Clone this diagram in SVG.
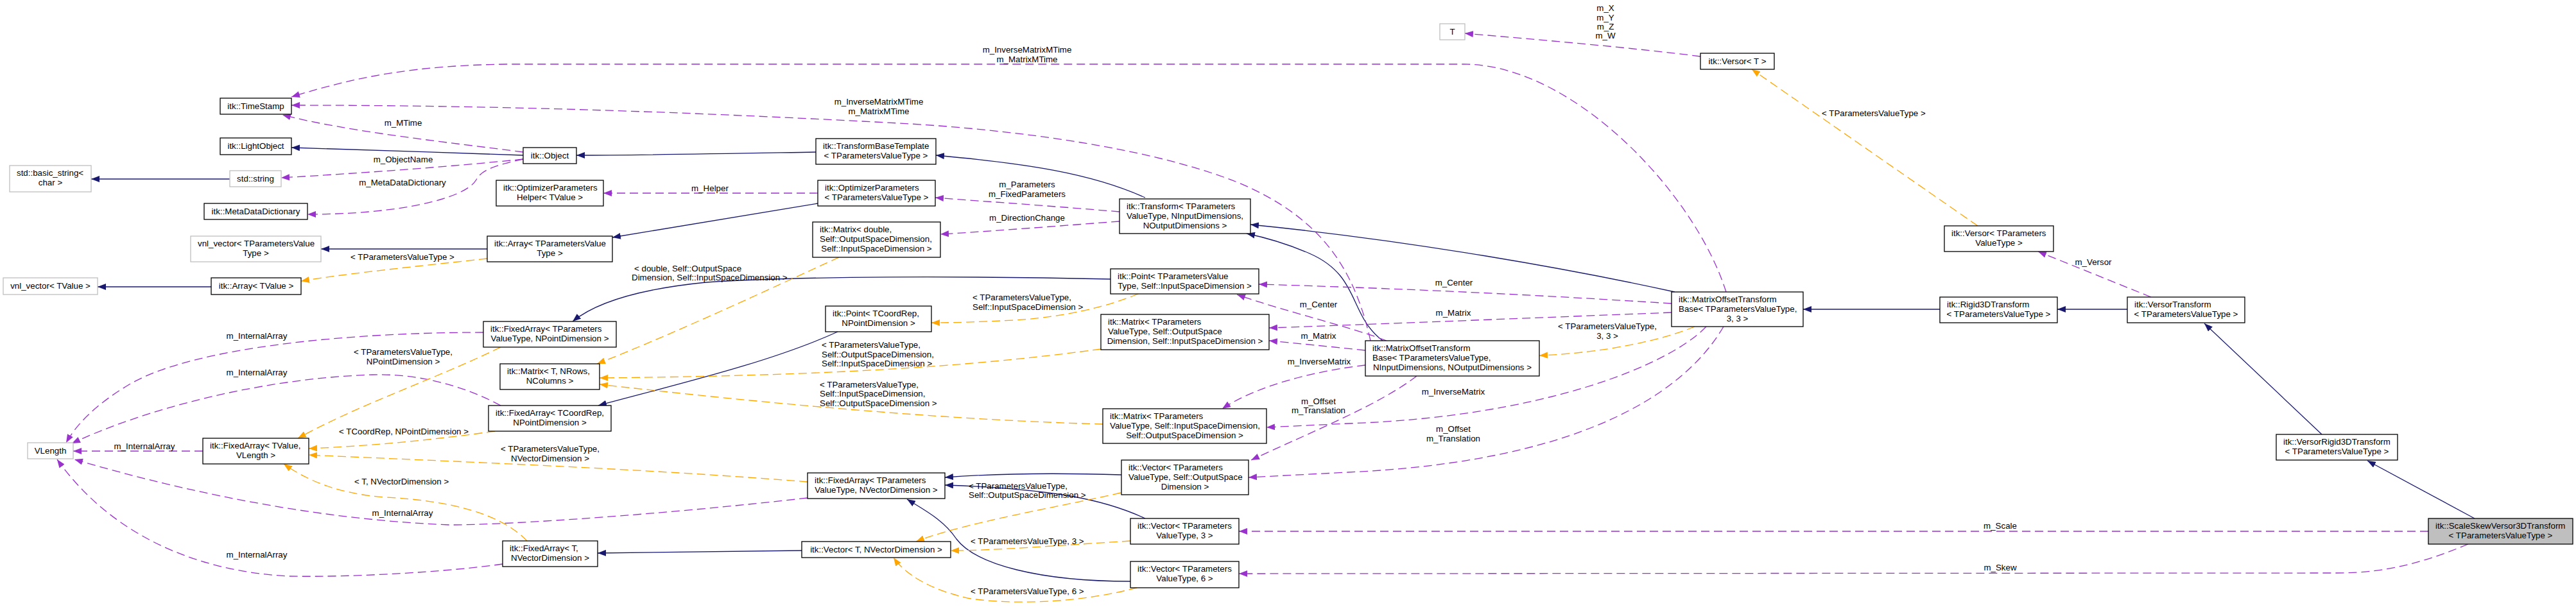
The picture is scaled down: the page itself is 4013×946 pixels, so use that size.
<svg xmlns="http://www.w3.org/2000/svg" width="4013" height="946" viewBox="0 0 4013 946">
<style>
text{font-family:"Liberation Sans",Arial,sans-serif;font-size:13.33px;fill:#000}
.c{text-anchor:middle}
.l{text-anchor:start}
.nodes rect{fill:#fff;stroke:#000;stroke-width:1.3}
.nodes rect.gy{stroke:#bfbfbf}
.nodes rect.cur{fill:#bfbfbf}
.e{fill:none;stroke-width:1.3}
.s{stroke:#191970;marker-end:url(#an)}
.p{stroke:#9a32cd;stroke-dasharray:13,7;marker-end:url(#ap)}
.o{stroke:#ffa500;stroke-dasharray:13,7;marker-end:url(#ao)}
</style>
<defs>
<marker id="an" viewBox="0 0 13 10" refX="13" refY="5" markerWidth="13" markerHeight="10" markerUnits="userSpaceOnUse" orient="auto"><path d="M0,0 L13,5 L0,10 z" fill="#191970"/></marker>
<marker id="ap" viewBox="0 0 13 10" refX="13" refY="5" markerWidth="13" markerHeight="10" markerUnits="userSpaceOnUse" orient="auto"><path d="M0,0 L13,5 L0,10 z" fill="#9a32cd"/></marker>
<marker id="ao" viewBox="0 0 13 10" refX="13" refY="5" markerWidth="13" markerHeight="10" markerUnits="userSpaceOnUse" orient="auto"><path d="M0,0 L13,5 L0,10 z" fill="#ffa500"/></marker>
</defs>
<rect x="0" y="0" width="4013" height="946" fill="#fff"/>
<g id="connectors">
<!-- inheritance -->
<path class="e s" d="M815,242 C700,238 560,233 454,230"/>
<path class="e s" d="M358,279 L142,279"/>
<path class="e s" d="M1271,237 C1100,240 1000,242 898,242"/>
<path class="e s" d="M759,388 L500,388"/>
<path class="e s" d="M1274,317 L954,370"/>
<path class="e s" d="M329,447 L152,447"/>
<path class="e s" d="M1784,308 C1700,270 1600,255 1458,242"/>
<path class="e s" d="M2609,455 C2450,420 2200,375 1948,350"/>
<path class="e s" d="M2154,531 C2100,490 2120,430 2040,395 C2010,382 1980,372 1942,364"/>
<path class="e s" d="M1730,435 C1500,430 1250,430 1100,440 C1000,450 930,470 892,501"/>
<path class="e s" d="M1305,517 C1200,565 1050,600 932,632"/>
<path class="e s" d="M1249,858 L931,862"/>
<path class="e s" d="M1747,740 C1650,737 1550,738 1472,744"/>
<path class="e s" d="M1784,808 C1720,778 1640,762 1472,756"/>
<path class="e s" d="M1761,906 C1620,906 1520,880 1490,840 C1470,810 1440,795 1413,778"/>
<path class="e s" d="M3022,482 L2809,482"/>
<path class="e s" d="M3314,482 L3205,482"/>
<path class="e s" d="M3617,677 L3434,504"/>
<path class="e s" d="M3855,808 L3688,718"/>
<!-- members -->
<path class="e p" d="M2689,455 C2640,300 2450,100 2280,100 L790,100 C650,102 560,118 454,151"/>
<path class="e p" d="M2135,531 C2110,420 2060,340 1930,285 C1780,225 1550,200 1400,192 C1100,176 800,164 454,164"/>
<path class="e p" d="M815,237 C700,222 540,205 440,179"/>
<path class="e p" d="M815,248 C700,260 560,270 438,277"/>
<path class="e p" d="M815,248 C770,258 750,265 742,280 C725,310 620,334 479,334"/>
<path class="e p" d="M1274,301 L940,301"/>
<path class="e p" d="M1744,330 C1650,322 1550,315 1457,308"/>
<path class="e p" d="M1744,345 C1650,352 1550,360 1465,365"/>
<path class="e p" d="M753,518 C550,518 300,540 200,600 C150,630 120,660 103,690"/>
<path class="e p" d="M780,632 C720,600 650,582 580,584 C400,590 220,640 112,691"/>
<path class="e p" d="M316,703 L114,703"/>
<path class="e p" d="M1258,776 C1050,800 800,818 700,818 C500,810 300,770 116,716"/>
<path class="e p" d="M783,879 C700,891 550,900 450,898 C300,890 170,830 89,716"/>
<path class="e p" d="M2604,473 C2400,460 2200,450 1961,443"/>
<path class="e p" d="M2160,531 C2100,508 2000,485 1927,459"/>
<path class="e p" d="M2604,487 C2400,495 2150,505 1977,511"/>
<path class="e p" d="M2127,546 C2070,540 2020,535 1977,531"/>
<path class="e p" d="M2127,569 C2050,578 1960,600 1904,637"/>
<path class="e p" d="M2658,509 C2600,570 2400,650 2100,660 L1973,666"/>
<path class="e p" d="M2207,586 C2150,630 2050,670 1949,717"/>
<path class="e p" d="M2685,509 C2620,620 2450,720 2100,736 L1945,744"/>
<path class="e p" d="M2649,88 C2550,75 2400,62 2282,52"/>
<path class="e p" d="M3351,463 L3175,392"/>
<path class="e p" d="M3783,828 L1930,828"/>
<path class="e p" d="M3845,848 C3780,875 3720,893 3640,893 L1930,894"/>
<!-- template instances -->
<path class="e o" d="M759,403 C650,415 550,425 469,438"/>
<path class="e o" d="M1307,401 C1200,450 1050,520 930,567"/>
<path class="e o" d="M1715,544 C1550,566 1350,585 934,589"/>
<path class="e o" d="M1718,661 C1500,655 1250,635 934,599"/>
<path class="e o" d="M1773,458 C1720,480 1650,495 1579,499 C1520,502 1480,503 1451,503"/>
<path class="e o" d="M780,541 C680,590 560,630 464,683"/>
<path class="e o" d="M771,672 C680,685 580,695 481,699"/>
<path class="e o" d="M1258,751 C1000,730 700,719 481,709"/>
<path class="e o" d="M821,843 C780,800 700,780 600,775 C530,770 480,750 442,723"/>
<path class="e o" d="M1746,768 C1650,790 1500,815 1427,844"/>
<path class="e o" d="M1761,843 C1650,850 1550,858 1481,858"/>
<path class="e o" d="M1771,916 C1700,935 1600,945 1512,933 C1450,920 1410,895 1392,869"/>
<path class="e o" d="M2640,509 C2590,530 2500,550 2398,554"/>
<path class="e o" d="M3081,352 L2729,108"/>
<!-- edge labels -->
<text class="c" x="1600" y="82">m_InverseMatrixMTime</text>
<text class="c" x="1600" y="97">m_MatrixMTime</text>
<text class="c" x="1369" y="163">m_InverseMatrixMTime</text>
<text class="c" x="1369" y="178">m_MatrixMTime</text>
<text class="c" x="628" y="196">m_MTime</text>
<text class="c" x="628" y="253">m_ObjectName</text>
<text class="c" x="627" y="289">m_MetaDataDictionary</text>
<text class="c" x="627" y="405">&lt; TParametersValueType &gt;</text>
<text class="c" x="1106" y="298">m_Helper</text>
<text class="l" x="988" y="423">&lt; double, Self::OutputSpace</text>
<text class="l" x="984" y="437">Dimension, Self::InputSpaceDimension &gt;</text>
<text class="c" x="1600" y="292">m_Parameters</text>
<text class="c" x="1600" y="307">m_FixedParameters</text>
<text class="c" x="1600" y="344">m_DirectionChange</text>
<text class="c" x="628" y="553">&lt; TParametersValueType,</text>
<text class="c" x="628" y="568">NPointDimension &gt;</text>
<text class="l" x="528" y="677">&lt; TCoordRep, NPointDimension &gt;</text>
<text class="l" x="552" y="755">&lt; T, NVectorDimension &gt;</text>
<text class="c" x="400" y="528">m_InternalArray</text>
<text class="c" x="400" y="585">m_InternalArray</text>
<text class="c" x="225" y="700">m_InternalArray</text>
<text class="c" x="627" y="804">m_InternalArray</text>
<text class="c" x="400" y="869">m_InternalArray</text>
<text class="c" x="857" y="704">&lt; TParametersValueType,</text>
<text class="c" x="857" y="719">NVectorDimension &gt;</text>
<text class="l" x="1280" y="542">&lt; TParametersValueType,</text>
<text class="l" x="1280" y="557">Self::OutputSpaceDimension,</text>
<text class="l" x="1280" y="571">Self::InputSpaceDimension &gt;</text>
<text class="l" x="1277" y="604">&lt; TParametersValueType,</text>
<text class="l" x="1277" y="618">Self::InputSpaceDimension,</text>
<text class="l" x="1277" y="633">Self::OutputSpaceDimension &gt;</text>
<text class="l" x="1515" y="468">&lt; TParametersValueType,</text>
<text class="l" x="1515" y="483">Self::InputSpaceDimension &gt;</text>
<text class="l" x="1509" y="762">&lt; TParametersValueType,</text>
<text class="l" x="1509" y="776">Self::OutputSpaceDimension &gt;</text>
<text class="l" x="1512" y="848">&lt; TParametersValueType, 3 &gt;</text>
<text class="l" x="1512" y="926">&lt; TParametersValueType, 6 &gt;</text>
<text class="c" x="2054" y="479">m_Center</text>
<text class="c" x="2265" y="445">m_Center</text>
<text class="c" x="2054" y="528">m_Matrix</text>
<text class="c" x="2264" y="492">m_Matrix</text>
<text class="c" x="2055" y="568">m_InverseMatrix</text>
<text class="c" x="2264" y="615">m_InverseMatrix</text>
<text class="c" x="2054" y="630">m_Offset</text>
<text class="c" x="2054" y="644">m_Translation</text>
<text class="c" x="2264" y="673">m_Offset</text>
<text class="c" x="2264" y="688">m_Translation</text>
<text class="c" x="2504" y="513">&lt; TParametersValueType,</text>
<text class="c" x="2504" y="528">3, 3 &gt;</text>
<text class="c" x="2501" y="17">m_X</text>
<text class="c" x="2501" y="32">m_Y</text>
<text class="c" x="2501" y="46">m_Z</text>
<text class="c" x="2501" y="60">m_W</text>
<text class="l" x="2838" y="181">&lt; TParametersValueType &gt;</text>
<text class="c" x="3261" y="413">m_Versor</text>
<text class="c" x="3116" y="824">m_Scale</text>
<text class="c" x="3116" y="889">m_Skew</text>
</g>
<g class="nodes">
<g id="n_timestamp"><rect x="343" y="153" width="111" height="25"/><text class="c" x="398.5" y="170">itk::TimeStamp</text></g>
<g id="n_lightobject"><rect x="343" y="215" width="111" height="26"/><text class="c" x="398.5" y="232">itk::LightObject</text></g>
<g id="n_basic_string"><rect class="gy" x="15" y="258" width="127" height="41"/><text class="l" x="26" y="274">std::basic_string&lt;</text><text class="c" x="78.5" y="289">char &gt;</text></g>
<g id="n_string"><rect class="gy" x="358" y="266" width="80" height="25"/><text class="c" x="398" y="283">std::string</text></g>
<g id="n_metadatadictionary"><rect x="318" y="317" width="161" height="25"/><text class="c" x="398.5" y="334">itk::MetaDataDictionary</text></g>
<g id="n_vnl_vector_tpvt"><rect class="gy" x="297" y="368" width="203" height="40"/><text class="l" x="308" y="384">vnl_vector&lt; TParametersValue</text><text class="c" x="398.5" y="399">Type &gt;</text></g>
<g id="n_vnl_vector_tvalue"><rect class="gy" x="5" y="433" width="147" height="26"/><text class="c" x="78.5" y="450">vnl_vector&lt; TValue &gt;</text></g>
<g id="n_array_tvalue"><rect x="329" y="433" width="140" height="26"/><text class="c" x="399" y="450">itk::Array&lt; TValue &gt;</text></g>
<g id="n_object"><rect x="815" y="230" width="83" height="25"/><text class="c" x="856.5" y="247">itk::Object</text></g>
<g id="n_optparamhelper"><rect x="773" y="281" width="167" height="40"/><text class="l" x="784" y="297">itk::OptimizerParameters</text><text class="c" x="856.5" y="312">Helper&lt; TValue &gt;</text></g>
<g id="n_array_tpvt"><rect x="759" y="368" width="195" height="40"/><text class="l" x="770" y="384">itk::Array&lt; TParametersValue</text><text class="c" x="856.5" y="399">Type &gt;</text></g>
<g id="n_transformbasetemplate"><rect x="1271" y="216" width="187" height="40"/><text class="l" x="1282" y="232">itk::TransformBaseTemplate</text><text class="c" x="1364.5" y="247">&lt; TParametersValueType &gt;</text></g>
<g id="n_optparams"><rect x="1274" y="281" width="183" height="40"/><text class="l" x="1285" y="297">itk::OptimizerParameters</text><text class="c" x="1365.5" y="312">&lt; TParametersValueType &gt;</text></g>
<g id="n_matrix_double"><rect x="1266" y="346" width="199" height="55"/><text class="l" x="1277" y="362">itk::Matrix&lt; double,</text><text class="l" x="1277" y="377">Self::OutputSpaceDimension,</text><text class="c" x="1365.5" y="392">Self::InputSpaceDimension &gt;</text></g>
<g id="n_transform"><rect x="1744" y="310" width="204" height="54"/><text class="l" x="1755" y="326">itk::Transform&lt; TParameters</text><text class="l" x="1755" y="341">ValueType, NInputDimensions,</text><text class="c" x="1846" y="356">NOutputDimensions &gt;</text></g>
<g id="n_point_tpvt"><rect x="1730" y="419" width="231" height="39"/><text class="l" x="1741" y="435">itk::Point&lt; TParametersValue</text><text class="c" x="1845.5" y="450">Type, Self::InputSpaceDimension &gt;</text></g>
<g id="n_vlength"><rect class="gy" x="43" y="690" width="71" height="25"/><text class="c" x="78.5" y="707">VLength</text></g>
<g id="n_fixedarray_tvalue"><rect x="316" y="683" width="165" height="40"/><text class="l" x="327" y="699">itk::FixedArray&lt; TValue,</text><text class="c" x="398.5" y="714">VLength &gt;</text></g>
<g id="n_fixedarray_tpvt_npoint"><rect x="753" y="501" width="207" height="40"/><text class="l" x="764" y="517">itk::FixedArray&lt; TParameters</text><text class="c" x="856.5" y="532">ValueType, NPointDimension &gt;</text></g>
<g id="n_matrix_t"><rect x="779" y="567" width="155" height="40"/><text class="l" x="790" y="583">itk::Matrix&lt; T, NRows,</text><text class="c" x="856.5" y="598">NColumns &gt;</text></g>
<g id="n_fixedarray_tcoordrep"><rect x="761" y="632" width="191" height="40"/><text class="l" x="772" y="648">itk::FixedArray&lt; TCoordRep,</text><text class="c" x="856.5" y="663">NPointDimension &gt;</text></g>
<g id="n_point_tcoordrep"><rect x="1286" y="477" width="165" height="40"/><text class="l" x="1297" y="493">itk::Point&lt; TCoordRep,</text><text class="c" x="1368.5" y="508">NPointDimension &gt;</text></g>
<g id="n_fixedarray_tpvt_nvec"><rect x="1258" y="737" width="214" height="40"/><text class="l" x="1269" y="753">itk::FixedArray&lt; TParameters</text><text class="c" x="1365" y="768">ValueType, NVectorDimension &gt;</text></g>
<g id="n_fixedarray_t_nvec"><rect x="783" y="843" width="148" height="40"/><text class="l" x="794" y="859">itk::FixedArray&lt; T,</text><text class="c" x="857" y="874">NVectorDimension &gt;</text></g>
<g id="n_vector_t_nvec"><rect x="1249" y="844" width="232" height="25"/><text class="c" x="1365" y="861">itk::Vector&lt; T, NVectorDimension &gt;</text></g>
<g id="n_matrix_out_in"><rect x="1715" y="490" width="262" height="55"/><text class="l" x="1726" y="506">itk::Matrix&lt; TParameters</text><text class="l" x="1726" y="521">ValueType, Self::OutputSpace</text><text class="c" x="1846" y="536">Dimension, Self::InputSpaceDimension &gt;</text></g>
<g id="n_matrix_in_out"><rect x="1718" y="637" width="255" height="54"/><text class="l" x="1729" y="653">itk::Matrix&lt; TParameters</text><text class="l" x="1729" y="668">ValueType, Self::InputSpaceDimension,</text><text class="c" x="1845.5" y="683">Self::OutputSpaceDimension &gt;</text></g>
<g id="n_vector_outspace"><rect x="1747" y="717" width="198" height="54"/><text class="l" x="1758" y="733">itk::Vector&lt; TParameters</text><text class="l" x="1758" y="748">ValueType, Self::OutputSpace</text><text class="c" x="1846" y="763">Dimension &gt;</text></g>
<g id="n_vector_3"><rect x="1761" y="808" width="169" height="40"/><text class="l" x="1772" y="824">itk::Vector&lt; TParameters</text><text class="c" x="1845.5" y="839">ValueType, 3 &gt;</text></g>
<g id="n_vector_6"><rect x="1761" y="875" width="169" height="41"/><text class="l" x="1772" y="891">itk::Vector&lt; TParameters</text><text class="c" x="1845.5" y="906">ValueType, 6 &gt;</text></g>
<g id="n_motb_n"><rect x="2127" y="531" width="271" height="55"/><text class="l" x="2138" y="547">itk::MatrixOffsetTransform</text><text class="l" x="2138" y="562">Base&lt; TParametersValueType,</text><text class="c" x="2262.5" y="577">NInputDimensions, NOutputDimensions &gt;</text></g>
<g id="n_motb_33"><rect x="2604" y="455" width="205" height="54"/><text class="l" x="2615" y="471">itk::MatrixOffsetTransform</text><text class="l" x="2615" y="486">Base&lt; TParametersValueType,</text><text class="c" x="2706.5" y="501">3, 3 &gt;</text></g>
<g id="n_t"><rect class="gy" x="2243" y="37" width="39" height="25"/><text class="c" x="2262.5" y="54">T</text></g>
<g id="n_versor_t"><rect x="2649" y="83" width="115" height="25"/><text class="c" x="2706.5" y="100">itk::Versor&lt; T &gt;</text></g>
<g id="n_versor_tpvt"><rect x="3029" y="352" width="170" height="40"/><text class="l" x="3040" y="368">itk::Versor&lt; TParameters</text><text class="c" x="3114" y="383">ValueType &gt;</text></g>
<g id="n_rigid3d"><rect x="3022" y="463" width="183" height="40"/><text class="l" x="3033" y="479">itk::Rigid3DTransform</text><text class="c" x="3113.5" y="494">&lt; TParametersValueType &gt;</text></g>
<g id="n_versortransform"><rect x="3314" y="463" width="183" height="40"/><text class="l" x="3325" y="479">itk::VersorTransform</text><text class="c" x="3405.5" y="494">&lt; TParametersValueType &gt;</text></g>
<g id="n_versorrigid3d"><rect x="3546" y="677" width="189" height="40"/><text class="l" x="3557" y="693">itk::VersorRigid3DTransform</text><text class="c" x="3640.5" y="708">&lt; TParametersValueType &gt;</text></g>
<g id="n_scaleskew"><rect class="cur" x="3783" y="808" width="225" height="40"/><text class="l" x="3794" y="824">itk::ScaleSkewVersor3DTransform</text><text class="c" x="3895.5" y="839">&lt; TParametersValueType &gt;</text></g>
</g>
</svg>
